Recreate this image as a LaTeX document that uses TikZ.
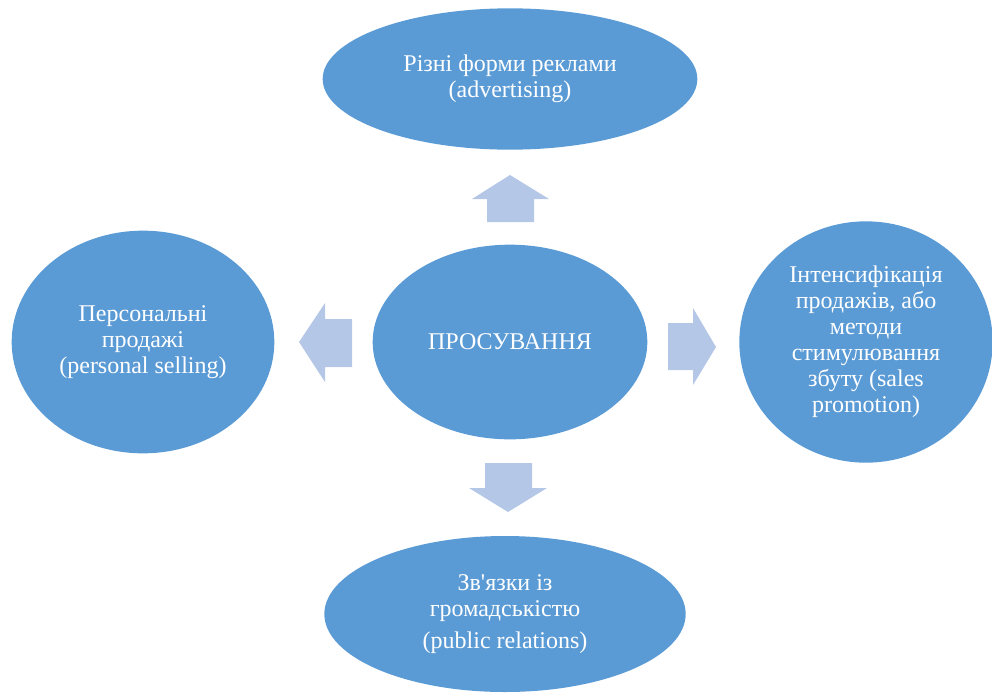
\documentclass[tikz,border=0pt]{standalone}
\usepackage{fontspec}
\setmainfont{Liberation Serif}
\usetikzlibrary{shapes.geometric}
\definecolor{bulle}{HTML}{5B9BD5}
\definecolor{fleche}{HTML}{B4C7E7}
\tikzset{
bulle/.style={ellipse,fill=bulle,text=white,inner sep=0pt,align=center,
font=\fontsize{18}{19.5}\selectfont},
fleche/.style={fill=fleche}
}
\begin{document}
\begin{tikzpicture}[x=0.75pt,y=-0.75pt]
\useasboundingbox (0,0) rectangle (992,693);

% Promotion
\node[bulle,
minimum width=206pt,
minimum height=146pt]
(P)
at (510,342)
{ПРОСУВАННЯ};

% Reclame
\node[bulle,
minimum width=281pt,
minimum height=106pt]
(R)
at (510,79)
{Різні форми реклами\\(advertising)};

% Ventes personnelles
\node[bulle,
minimum width=197pt,
minimum height=167pt]
(V)
at (143,342)
{Персональні\\продажі\\(personal selling)};

% Stimulation
\node[bulle,
minimum width=190pt,
minimum height=181pt]
(S)
at (866,342)
{Інтенсифікація\\продажів, або\\методи\\стимулювання\\збуту (sales\\promotion)};

% Relations publiques
\node[bulle,
minimum width=271pt,
minimum height=117pt]
(G)
at (505,614)
{Зв\textquotesingle язки із\\громадськістю\\[4pt](public relations)};

% Flèches
\fill[fleche] (487,222) -- (487,199) -- (472,199) -- (510,175)
-- (549,199) -- (534,199) -- (534,222) -- cycle;
\fill[fleche] (352,319) -- (325,319) -- (325,303) -- (299,342)
-- (325,382) -- (325,367) -- (352,367) -- cycle;
\fill[fleche] (668,323) -- (693,323) -- (693,308) -- (716,347)
-- (693,385) -- (693,370) -- (668,370) -- cycle;
\fill[fleche] (485,463) -- (485,488) -- (469,488) -- (508,512)
-- (547,488) -- (532,488) -- (532,463) -- cycle;

\end{tikzpicture}
\end{document}
